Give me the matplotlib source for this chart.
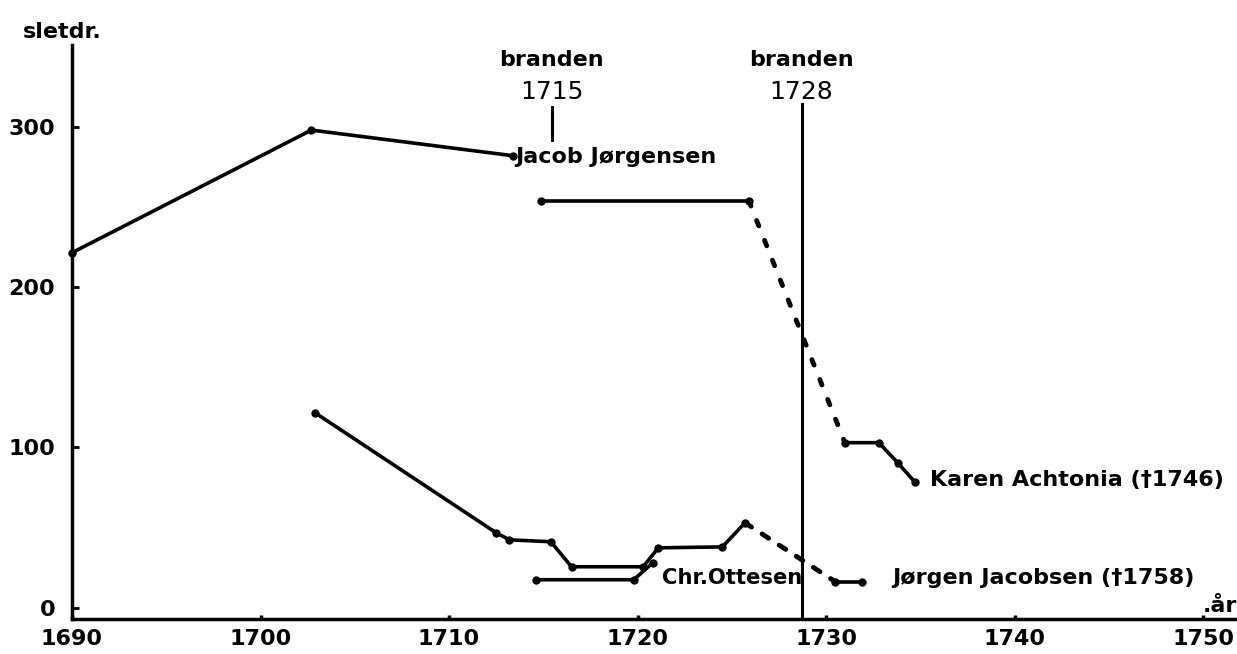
import matplotlib
matplotlib.use("Agg")
import matplotlib.pyplot as plt

# data (year, sletdaler)
jj_years = [1690, 1702.7, 1713.4]
jj_vals = [221.5, 298, 282]
jj2_years = [1714.9, 1725.9]
jj2_vals = [254, 254]
ka_dot_years = [1725.9, 1731.0]
ka_dot_vals = [254, 103]
ka_years = [1731.0, 1732.8, 1733.8, 1734.7]
ka_vals = [103, 103, 90.5, 78.6]

jac_years = [1702.9, 1712.5, 1713.2, 1715.4, 1716.5, 1720.3, 1721.1, 1724.5, 1725.7]
jac_vals = [121.6, 46.8, 42.4, 41.2, 25.6, 25.6, 37.4, 38, 53]
jac_dot_years = [1725.7, 1730.5]
jac_dot_vals = [53, 16.2]
jac2_years = [1730.5, 1731.9]
jac2_vals = [16.2, 16.2]

co_years = [1714.6, 1719.8, 1720.8]
co_vals = [17.5, 17.5, 28]

fire1_year = 1715.45
fire2_year = 1728.7

xticks = [1690, 1700, 1710, 1720, 1730, 1740, 1750]
yticks = [0, 100, 200, 300]

fig = plt.figure(figsize=(12.37, 6.54), dpi=100)
ax = fig.add_axes([0.0582, 0.0535, 0.9418, 0.8775])

lw = 2.6
kw = dict(color='black', lw=lw, marker='o', ms=5, solid_capstyle='round', clip_on=False)
ax.plot(jj_years, jj_vals, **kw)
ax.plot(jj2_years, jj2_vals, **kw)
ax.plot(ka_years, ka_vals, **kw)
ax.plot(jac_years, jac_vals, **kw)
ax.plot(jac2_years, jac2_vals, **kw)
ax.plot(co_years, co_vals, **kw)
ax.plot(ka_dot_years, ka_dot_vals, color='black', lw=3.5, ls=(0, (1.2, 3.2)), dash_capstyle='round')
ax.plot(jac_dot_years, jac_dot_vals, color='black', lw=3.5, ls=(0, (1.6, 2.6)), dash_capstyle='round')

# fire markers
ax.plot([fire2_year, fire2_year], [-7, 314], color='black', lw=2.2)
ax.plot([fire1_year, fire1_year], [292, 312.5], color='black', lw=2.2)

tfont = dict(fontsize=16, family='DejaVu Sans', fontweight='bold')
ax.text(fire1_year, 342, 'branden', ha='center', va='center', **tfont)
ax.text(fire1_year, 322, '1715', ha='center', va='center', fontsize=18)
ax.text(fire2_year, 342, 'branden', ha='center', va='center', **tfont)
ax.text(fire2_year, 322, '1728', ha='center', va='center', fontsize=18)

ax.text(1713.5, 281, 'Jacob Jørgensen', ha='left', va='center', **tfont)
ax.text(1735.5, 80, 'Karen Achtonia (\u20201746)', ha='left', va='center', **tfont)
ax.text(1733.5, 18.7, 'Jørgen Jacobsen (\u20201758)', ha='left', va='center', **tfont)
ax.text(1721.3, 18.7, 'Chr.Ottesen', ha='left', va='center', fontsize=15.2,
        family='DejaVu Sans', fontweight='bold')

ax.set_xlim(1690, 1751.8)
ax.set_ylim(-7, 351)
ax.set_xticks(xticks)
ax.set_yticks(yticks)
ax.tick_params(axis='x', direction='in', length=3, width=2.5, labelsize=16, pad=7)
ax.tick_params(axis='y', direction='in', length=5, width=2, labelsize=16, pad=12)
for lab in ax.get_xticklabels() + ax.get_yticklabels():
    lab.set_fontweight('bold')
for s in ['top', 'right']:
    ax.spines[s].set_visible(False)
ax.spines['left'].set_linewidth(2.5)
ax.spines['bottom'].set_linewidth(2.5)

ax.text(1.0, 0.005, '.år', transform=ax.transAxes, ha='right', va='bottom', **tfont)
fig.text(62 / 1237, 1 - 32 / 654, 'sletdr.', ha='center', va='center', **tfont)

fig.savefig('out.png', dpi=100)
